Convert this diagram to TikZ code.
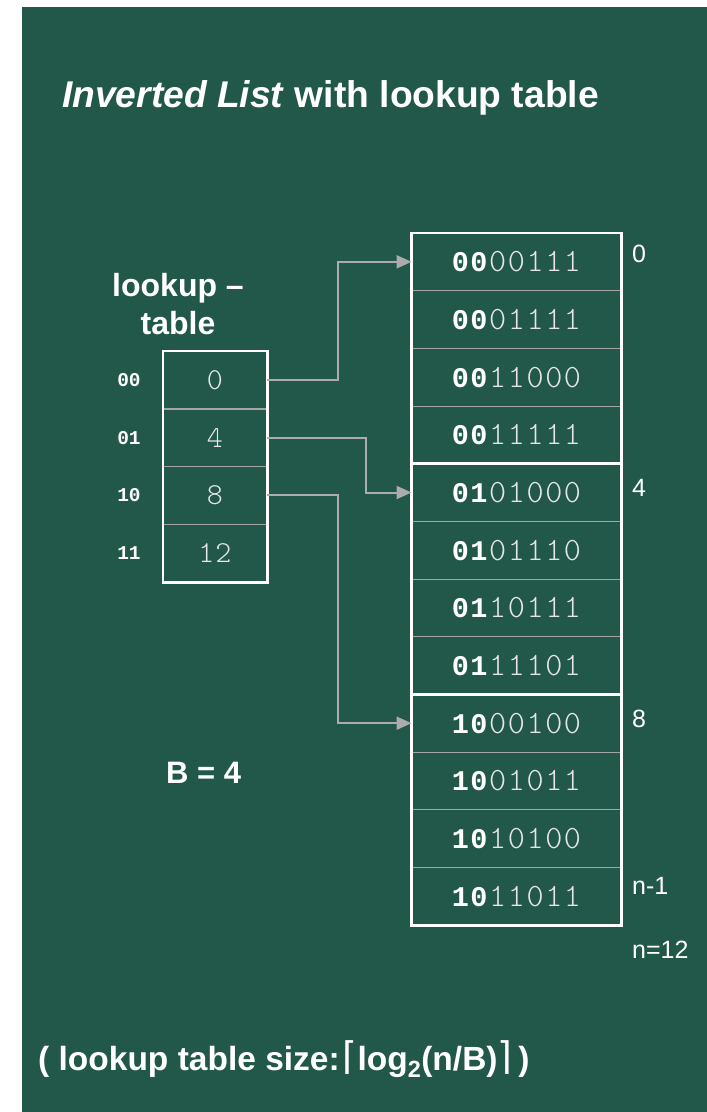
\documentclass[tikz,border=0pt]{standalone}
\usepackage{fontspec}
\setmainfont{Liberation Sans}
\newfontfamily\thinmono{lmmonolt10-regular.otf}
\newfontfamily\lmono{Liberation Mono}
\newfontfamily\djv{DejaVu Sans}
\usetikzlibrary{arrows.meta}
\definecolor{bg}{RGB}{34,88,73}
\definecolor{arrowgray}{RGB}{172,172,172}
\definecolor{rulegray}{RGB}{165,165,165}
\definecolor{thinwhite}{RGB}{230,230,230}
\makeatletter
\newlength\my@w
\def\my@spread#1{\ifx#1\relax\else\makebox[\my@w][c]{#1}\expandafter\my@spread\fi}
\newcommand\spreadtext[2]{\setlength\my@w{#2}\edef\my@a{#1}\expandafter\my@spread\my@a\relax}
\newcommand\bitspread[3]{%
  {\lmono\bfseries\fontsize{28.5}{28.5}\selectfont\spreadtext{#1}{#3}}%
  {\thinmono\fontsize{32.5}{32.5}\selectfont\color{thinwhite}\spreadtext{#2}{#3}}}
\newcommand\thinspread[2]{%
  {\thinmono\fontsize{30.5}{30.5}\selectfont\color{thinwhite}\spreadtext{#1}{#2}}}
\newcommand\ceilL{{\djv\mdseries\fontsize{38}{38}\selectfont\raisebox{1pt}{⌈}}}
\newcommand\ceilR{{\djv\mdseries\fontsize{38}{38}\selectfont\raisebox{1pt}{⌉}}}
\makeatother
\tikzset{
  cell/.style={minimum width=209.3pt, minimum height=57.67pt, inner sep=0pt, text=white},
  lcell/.style={minimum width=104pt, minimum height=57.75pt, inner sep=0pt, text=thinwhite},
  rowlbl/.style={inner sep=0pt, text=white, font=\lmono\bfseries\fontsize{19.5}{19.5}\selectfont},
  idx/.style={inner sep=0pt, text=white, anchor=base west, font=\fontsize{25}{25}\selectfont},
  sep/.style={draw=rulegray, line width=1.1pt},
  wbox/.style={draw=white, line width=2.6pt},
  arr/.style={draw=arrowgray, line width=2pt, -{Triangle[length=15pt,width=13pt]}},
  bigtxt/.style={inner sep=0pt, text=white, font=\bfseries\fontsize{32}{38}\selectfont}
}
\begin{document}
\begin{tikzpicture}[x=1pt,y=-1pt]
\fill[white] (0,0) rectangle (707,1112);
\fill[bg] (22,7) rectangle (707,1112);
\useasboundingbox (0,0) rectangle (707,1112);

% title
\node[inner sep=0pt, anchor=base west, text=white, font=\bfseries\fontsize{37.2}{37.2}\selectfont] (title) at (62,107) {\textit{Inverted List} with lookup table};

% lookup label
\node[bigtxt, align=center, anchor=base] (lkl) at (178,334) {lookup --\\table};

% lookup table cells
\foreach \i/\v in {0/0,1/4,2/8,3/12}
  \node[lcell] (l\i) at (215,{379.9+57.75*\i}) {\thinspread{\v}{17pt}};
\foreach \i/\k in {0/00,1/01,2/10,3/11}
  \node[rowlbl] (k\i) at (129,{379.9+57.75*\i}) {\k};
\foreach \i in {0,1,2}
  \draw[sep] (l\i.south west) -- (l\i.south east);
\draw[wbox] (l0.north west) rectangle (l3.south east);

% big table
\foreach \i/\p/\s in {0/00/00111,1/00/01111,2/00/11000,3/00/11111,4/01/01000,5/01/01110,6/01/10111,7/01/11101,8/10/00100,9/10/01011,10/10/10100,11/10/11011}
  \node[cell] (r\i) at (516.4,{261.83+57.67*\i}) {\bitspread{\p}{\s}{18.7pt}};
\foreach \i in {0,1,2,4,5,6,8,9,10}
  \draw[sep] (r\i.south west) -- (r\i.south east);
\draw[wbox] (r0.north west) rectangle (r3.south east);
\draw[wbox] (r4.north west) rectangle (r7.south east);
\draw[wbox] (r8.north west) rectangle (r11.south east);

% index labels
\node[idx] (i0) at (632,262.5) {0};
\node[idx] (i4) at (632,496) {4};
\node[idx] (i8) at (632,727) {8};
\node[idx] (in1) at (632,894) {n-1};
\node[idx] (in) at (632,958) {n=12};

% connectors
\coordinate (m1) at (338.3,0);
\coordinate (m2) at (366,0);
\draw[arr] (l0.east) -| (m1 |- r0.west) -- (r0.west);
\draw[arr] (l1.east) -| (m2 |- r4.west) -- (r4.west);
\draw[arr] (l2.east) -| (m1 |- r8.west) -- (r8.west);

% B = 4
\node[bigtxt, font=\bfseries\fontsize{31}{31}\selectfont, anchor=base west] (bval) at (166,783) {B = 4};

% bottom formula
\node[inner sep=0pt, anchor=base west, text=white, font=\bfseries\fontsize{33.5}{33.5}\selectfont] (formula) at (38,1070) {( lookup table size:\kern3pt\ceilL log\textsubscript{2}(n/B)\ceilR\kern6pt)};
\end{tikzpicture}
\end{document}
